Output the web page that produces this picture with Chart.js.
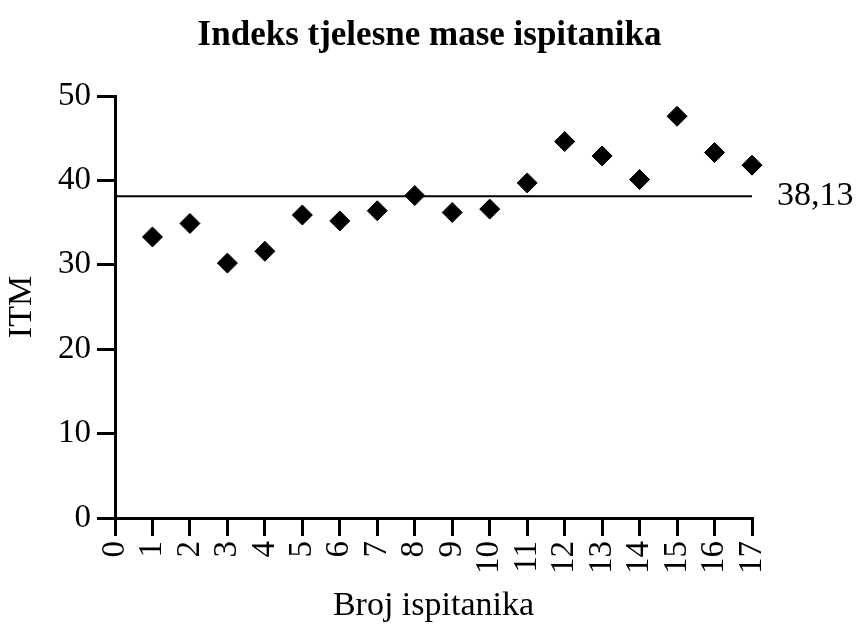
<!DOCTYPE html>
<html>
<head>
<meta charset="utf-8">
<script src="https://cdn.jsdelivr.net/npm/chart.js@4"></script>
<style>
  html, body { margin: 0; padding: 0; background: #fff; }
  #wrap { width: 859px; height: 626px; }
</style>
</head>
<body>
<div id="wrap"><canvas id="bmiChart"></canvas></div>
<script>
const subjects = [1, 2, 3, 4, 5, 6, 7, 8, 9, 10, 11, 12, 13, 14, 15, 16, 17];
const bmiValues = [33.3, 34.9, 30.2, 31.6, 35.9, 35.2, 36.4, 38.2, 36.2, 36.6, 39.7, 44.6, 42.9, 40.1, 47.6, 43.3, 41.8];
const meanValue = 38.13;
const xRange = [0, 17];
const yRange = [0, 50];

const serif = "'Liberation Serif', 'Times New Roman', serif";

// label next to the mean line
const meanLabel = {
  id: "meanLabel",
  afterDatasetsDraw(chart) {
    const { ctx, scales } = chart;
    const y = scales.y.getPixelForValue(meanValue);
    const x = scales.x.getPixelForValue(xRange[1]) + 25;
    ctx.save();
    ctx.font = `34px ${serif}`;
    ctx.fillStyle = "#000";
    ctx.textAlign = "left";
    ctx.textBaseline = "middle";
    ctx.fillText(meanValue.toFixed(2).replace(".", ","), x, y);
    ctx.restore();
  }
};

new Chart(document.getElementById("bmiChart"), {
  type: "scatter",
  data: {
    datasets: [
      {
        label: "ITM",
        data: subjects.map((s, i) => ({ x: s, y: bmiValues[i] })),
        pointStyle: "rectRot",
        pointRadius: 10,
        pointHoverRadius: 10,
        backgroundColor: "#000",
        borderColor: "#000",
        borderWidth: 1,
        clip: false
      },
      {
        type: "line",
        label: "Prosjek",
        data: xRange.map(x => ({ x, y: meanValue })),
        borderColor: "#000",
        borderWidth: 2,
        pointRadius: 0,
        fill: false,
        clip: false
      }
    ]
  },
  options: {
    responsive: true,
    maintainAspectRatio: false,
    animation: false,
    layout: { padding: { top: 11, right: 0, bottom: 0, left: 0 } },
    plugins: {
      legend: { display: false },
      tooltip: { enabled: false },
      title: {
        display: true,
        text: "Indeks tjelesne mase ispitanika",
        color: "#000",
        font: { family: serif, size: 35, weight: "bold" },
        padding: { top: 4, bottom: 39 }
      }
    },
    scales: {
      x: {
        type: "linear",
        min: xRange[0],
        max: xRange[1],
        afterFit: s => { s.height = 108; },
        border: { display: true, color: "#000", width: 3 },
        grid: { display: true, drawOnChartArea: false, drawTicks: true, tickLength: 18, color: "#000", lineWidth: 3 },
        ticks: {
          stepSize: 1,
          autoSkip: false,
          color: "#000",
          padding: 5,
          minRotation: 90,
          maxRotation: 90,
          font: { family: serif, size: 33 }
        },
        title: {
          display: true,
          text: "Broj ispitanika",
          color: "#000",
          font: { family: serif, size: 34 },
          padding: { top: 0, bottom: 0 }
        }
      },
      y: {
        min: yRange[0],
        max: yRange[1],
        afterFit: s => { s.width = 115; },
        border: { display: true, color: "#000", width: 3 },
        grid: { display: true, drawOnChartArea: false, drawTicks: true, tickLength: 18, color: "#000", lineWidth: 3 },
        ticks: {
          stepSize: 10,
          color: "#000",
          padding: 6,
          font: { family: serif, size: 33 }
        },
        title: {
          display: true,
          text: "ITM",
          color: "#000",
          font: { family: serif, size: 34 },
          padding: { top: 2, bottom: 0 }
        }
      },
      // empty right-hand box that keeps room for the mean label
      yRight: {
        position: "right",
        display: true,
        afterFit: s => { s.width = 107; },
        border: { display: false },
        grid: { display: false },
        ticks: { display: false }
      }
    }
  },
  plugins: [meanLabel]
});
</script>
</body>
</html>
